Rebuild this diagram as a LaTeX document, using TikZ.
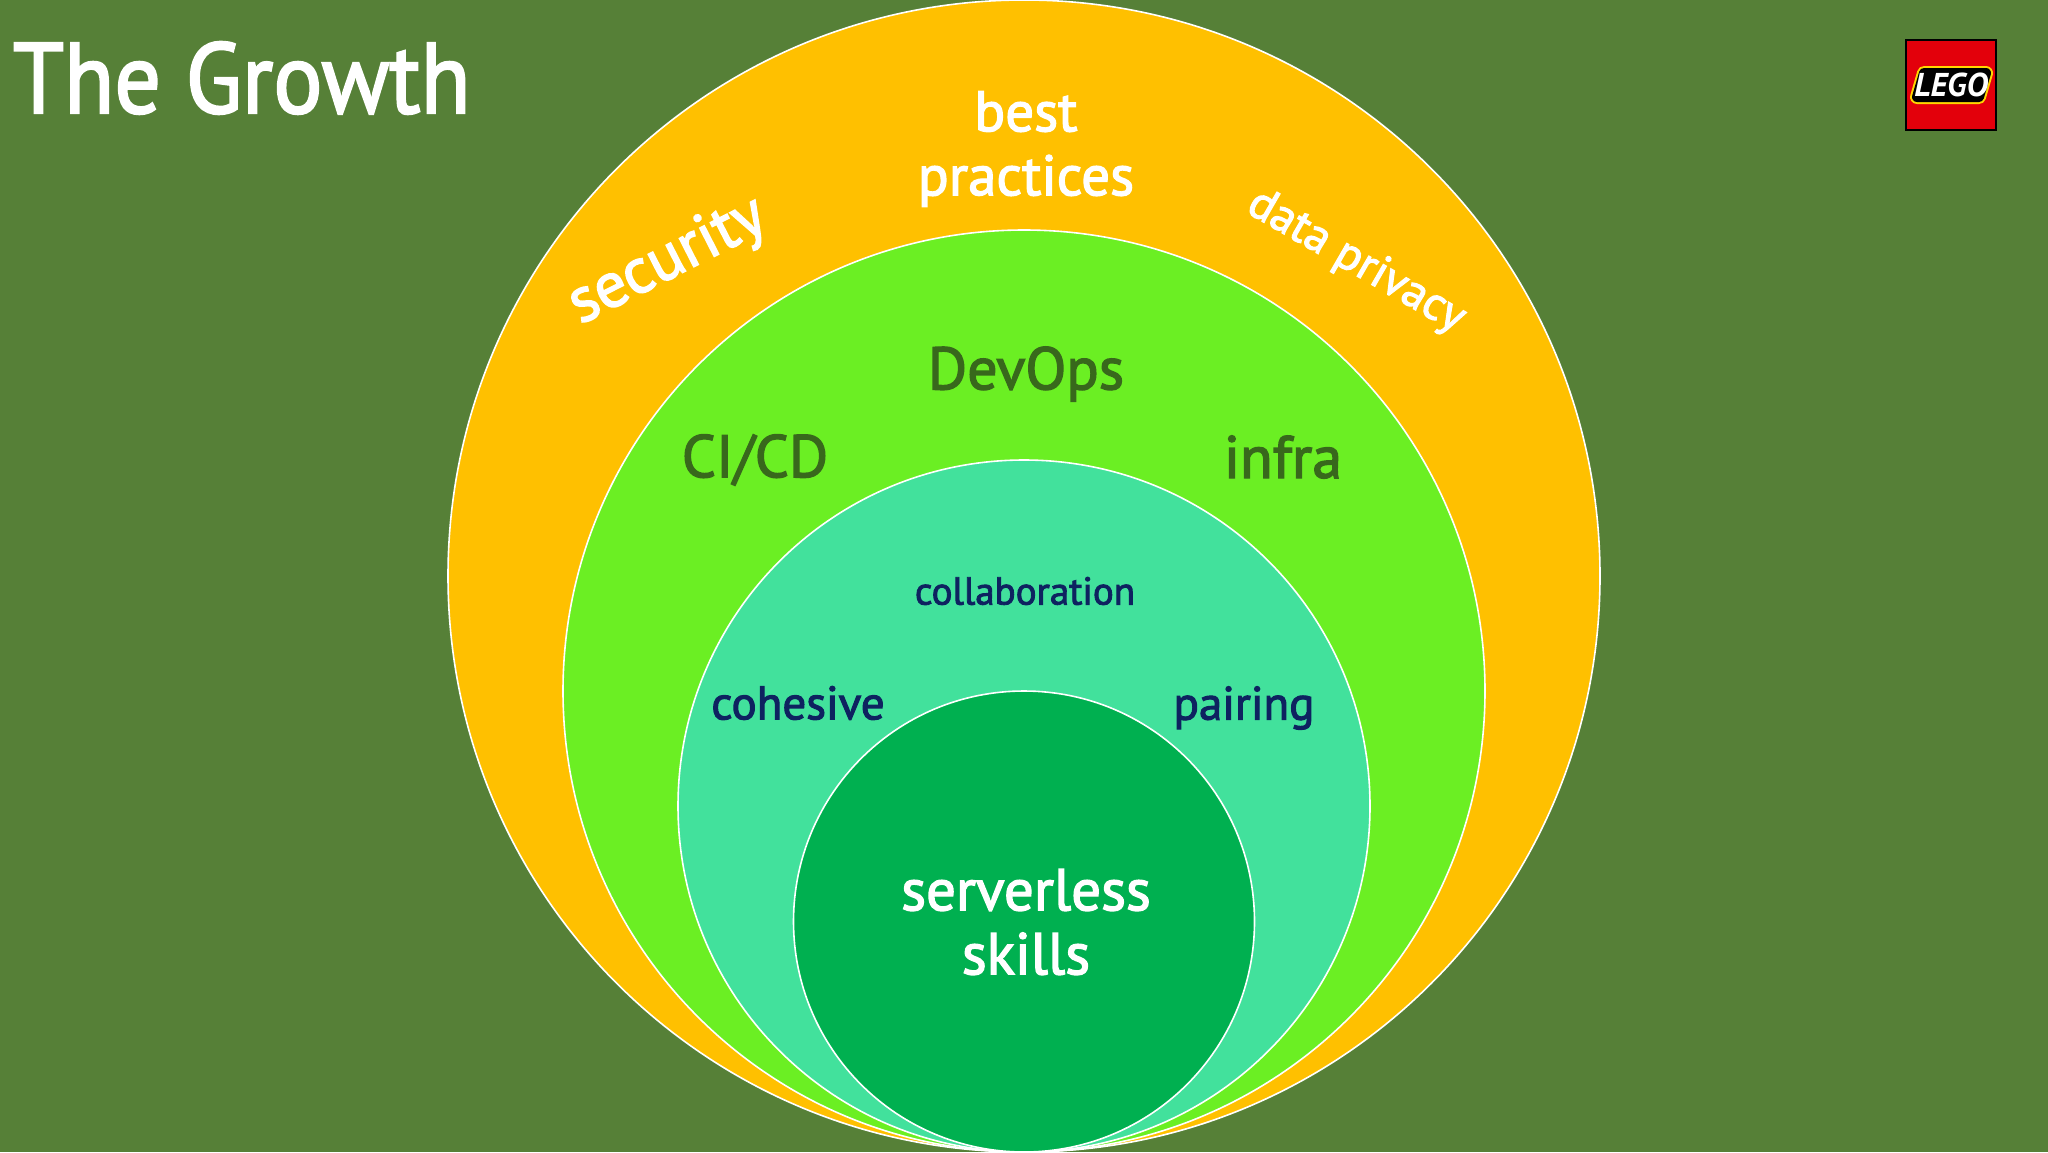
\documentclass[tikz,border=0pt]{standalone}
\usepackage{fontspec}
\setmainfont{PT Sans}
\newfontfamily\medfont[FakeBold=2.2]{PT Sans}
\definecolor{bg}{HTML}{568037}
\definecolor{ring1}{HTML}{FFC000}
\definecolor{ring2}{HTML}{6BEF23}
\definecolor{ring3}{HTML}{42E19C}
\definecolor{ring4}{HTML}{00B050}
\definecolor{devtext}{HTML}{38681C}
\definecolor{navy}{HTML}{0E2260}
\definecolor{legored}{HTML}{E3000B}
\definecolor{legoyellow}{HTML}{FFD500}
\tikzset{
  ring/.style={draw=white,line width=1.6pt,circle,inner sep=0pt,outer sep=0pt},
  lab/.style={inner sep=0pt,outer sep=0pt,align=center,anchor=center},
  whitelab/.style={lab,text=white},
  devlab/.style={lab,text=devtext,font=\medfont\fontsize{60}{60}\selectfont},
  teamlab/.style={lab,text=navy},
}
\begin{document}
\begin{tikzpicture}[x=1pt,y=-1pt]
\path[use as bounding box,fill=bg] (0,0) rectangle (2048,1152);
\node[ring,fill=ring1,minimum size=1152pt] (outer) at (1024,576) {};
\node[ring,fill=ring2,minimum size=922pt] (devops) at (1024,691) {};
\node[ring,fill=ring3,minimum size=692pt] (team) at (1024,806) {};
\node[ring,fill=ring4,minimum size=461pt] (skills) at (1024,921.5) {};
\node[whitelab,anchor=west,xscale=.92,font=\medfont\fontsize{100}{100}\selectfont] (title) at (13,78) {The Growth};
\node[whitelab,font=\medfont\fontsize{57}{64}\selectfont] (best) at (1026,149) {best\\practices};
\node[whitelab,rotate=27,font=\medfont\fontsize{64}{64}\selectfont] (security) at (668,262) {security};
\node[whitelab,rotate=-30,font=\medfont\fontsize{47}{47}\selectfont] (privacy) at (1356,262) {data privacy};
\node[devlab] (dev) at (1026,374) {DevOps};
\node[devlab] (cicd) at (755,460) {CI/CD};
\node[devlab] (infra) at (1283,457) {infra};
\node[teamlab,font=\medfont\fontsize{39}{39}\selectfont] (collab) at (1025,591) {collaboration};
\node[teamlab,font=\medfont\fontsize{47}{47}\selectfont] (cohesive) at (798,703) {cohesive};
\node[teamlab,font=\medfont\fontsize{47}{47}\selectfont] (pairing) at (1244,708) {pairing};
\node[whitelab,font=\medfont\fontsize{59}{64}\selectfont] (serverless) at (1026,922) {serverless\\skills};
\node[draw=black,fill=legored,line width=1.5pt,minimum size=90pt,inner sep=0pt] (logo) at (1951,85) {};
\foreach \c/\w in {legoyellow/14,black/10}{
  \draw[draw=\c,fill=\c,line width=\w pt,line join=round]
    (1917,97) -- (1924,73) -- (1986,73) -- (1979,97) -- cycle;
}
\node[lab,text=white,font=\fontsize{33}{33}\bfseries\itshape\selectfont] (lego) at (1951,85) {LEGO};
\end{tikzpicture}
\end{document}
